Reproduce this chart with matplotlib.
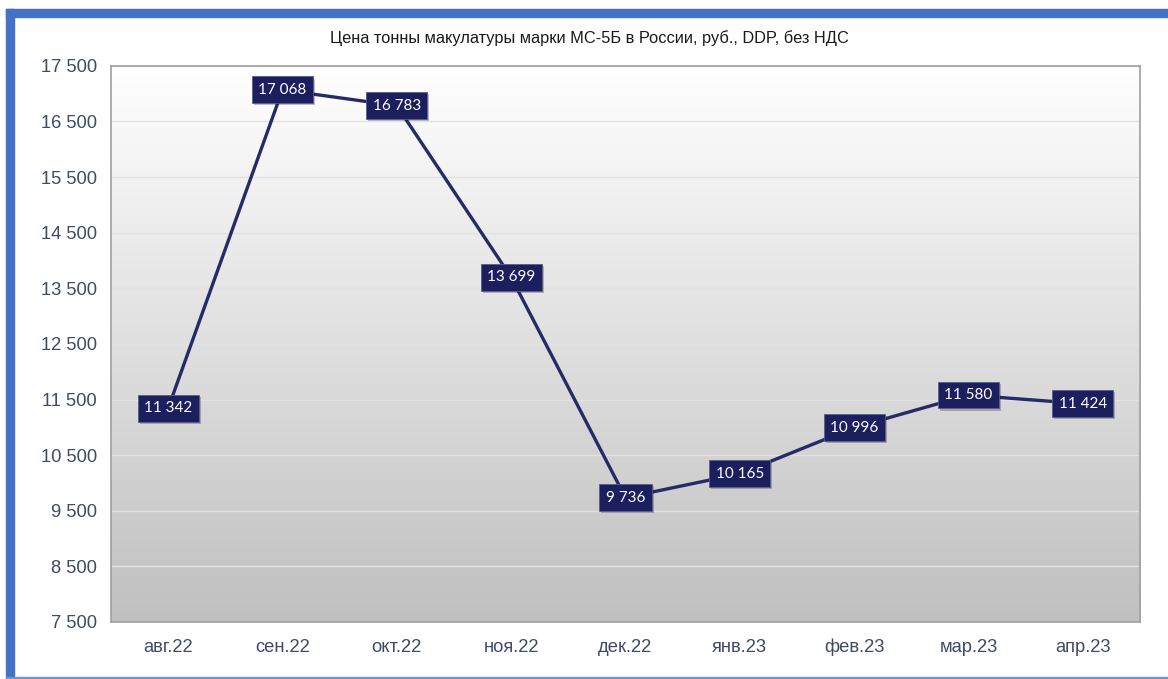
import numpy as np
import matplotlib
matplotlib.use('Agg')
from matplotlib import pyplot as plt
from matplotlib.patches import Rectangle
import matplotlib.patheffects as pe

months = ['авг.22', 'сен.22', 'окт.22', 'ноя.22', 'дек.22', 'янв.23', 'фев.23', 'мар.23', 'апр.23']
prices = [11342, 17068, 16783, 13699, 9736, 10165, 10996, 11580, 11424]
y_ticks = [7500, 8500, 9500, 10500, 11500, 12500, 13500, 14500, 15500, 16500, 17500]
title = 'Цена тонны макулатуры марки МС-5Б в России, руб., DDP, без НДС'

line_col = '#272a66'
box_col = '#1c1f5e'
tick_col = '#3f4a66'


def fmt(v):
    return f'{v:,}'.replace(',', ' ')


fig = plt.figure(figsize=(11.68, 6.79), dpi=100)
ax = fig.add_axes([0.095, 0.084, 0.881, 0.819])

# gradient background: white at top, grey at bottom
grad = np.linspace(1.0, 0.0, 256).reshape(-1, 1)
ax.imshow(grad, extent=[0, 1, 0, 1], transform=ax.transAxes, aspect='auto',
          cmap=matplotlib.colors.LinearSegmentedColormap.from_list('g', ['#c0c0c0', '#ffffff']),
          zorder=0)

x = np.arange(len(months))
ax.plot(x, prices, color=line_col, lw=2.4, zorder=3, solid_joinstyle='round')
for xi, v in zip(x, prices):
    ax.text(xi, v, fmt(v), ha='center', va='center', color='white', fontsize=11,
            family='Lato', zorder=5,
            bbox=dict(boxstyle='square,pad=0.42', fc=box_col, ec='#5a5d8a', lw=0.6,
                      path_effects=[pe.withSimplePatchShadow(offset=(1.5, -1.5), alpha=0.25)]))

ax.set_xlim(-0.5, len(months) - 0.5)
ax.set_ylim(7500, 17500)
ax.set_yticks(y_ticks)
ax.set_yticklabels([fmt(t) for t in y_ticks])
ax.set_xticks(x)
ax.set_xticklabels(months)
ax.tick_params(length=0, labelsize=13.2, labelcolor=tick_col, pad=10)
ax.tick_params(axis='x', pad=12)
for lab in ax.get_xticklabels() + ax.get_yticklabels():
    lab.set_family('Liberation Sans')
ax.grid(axis='y', color='#e2e2e2', lw=1.0, zorder=1)
ax.set_axisbelow(True)
for s in ax.spines.values():
    s.set_color('#a0a0a0')
    s.set_linewidth(1.2)

fig.text(0.505, 0.944, title, ha='center', va='center', fontsize=11.8,
         family='Liberation Sans', color='#1a1a1a')

# blue frame
fig.patches.append(Rectangle((6 / 1168, 0), 8 / 1168, 1 - 9 / 679, transform=fig.transFigure,
                             color='#4472c4', zorder=10))
fig.patches.append(Rectangle((6 / 1168, 1 - 17 / 679), 1, 8 / 679, transform=fig.transFigure,
                             color='#4472c4', zorder=10))
fig.patches.append(Rectangle((6 / 1168, 0), 1, 2.5 / 679, transform=fig.transFigure,
                             color='#6f95d6', zorder=10))

fig.savefig('out.png', dpi=100)
